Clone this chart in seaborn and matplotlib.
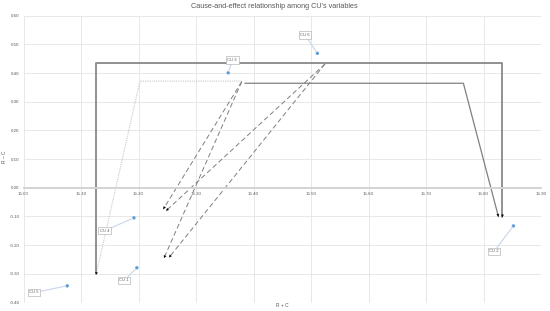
import matplotlib
matplotlib.use("Agg")
import matplotlib.pyplot as plt
import seaborn as sns
import pandas as pd

# ---- data ----
cu_labels = ["CU 1", "CU 2", "CU 3", "CU 4", "CU 5", "CU 6"]
r_plus_c = [15.197, 15.852, 15.356, 15.192, 15.076, 15.511]
r_minus_c = [-0.279, -0.133, 0.401, -0.105, -0.342, 0.469]

# relationship paths (R+C, R-C vertices), arrow at last vertex
path_thick_x = [15.126, 15.126, 15.833, 15.833]
path_thick_y = [-0.298, 0.434, 0.434, -0.103]
path_mid_x = [15.385, 15.765, 15.826]
path_mid_y = [0.3645, 0.3645, -0.101]
path_dot_x = [15.3795, 15.2026, 15.126]
path_dot_y = [0.372, 0.372, -0.304]
dash_a_x = [15.3795, 15.2431]
dash_a_y = [0.370, -0.0746]
dash_b_x = [15.3795, 15.2443]
dash_b_y = [0.370, -0.2453]
dash_c_x = [15.5243, 15.2478]
dash_c_y = [0.4317, -0.0805]
dash_d_x = [15.5243, 15.2530]
dash_d_y = [0.4317, -0.2432]

x_ticks = [15.00, 15.10, 15.20, 15.30, 15.40, 15.50, 15.60, 15.70, 15.80, 15.90]
y_ticks = [-0.40, -0.30, -0.20, -0.10, 0.00, 0.10, 0.20, 0.30, 0.40, 0.50, 0.60]

# label box positions (data coords)
label_pos = {
    "CU 1": (15.1748, -0.323),
    "CU 2": (15.8183, -0.222),
    "CU 3": (15.363, 0.445),
    "CU 4": (15.1405, -0.150),
    "CU 5": (15.0183, -0.365),
    "CU 6": (15.4896, 0.5328),
}

sns.set_style("white")
plt.rcParams["font.family"] = ["Liberation Sans", "DejaVu Sans"]

fig = plt.figure(figsize=(5.5, 3.11), dpi=100)
ax = fig.add_axes([23.5 / 550, 1 - 302.5 / 311, (541 - 23.5) / 550, (302.5 - 15.7) / 311])

grid_c = "#e4e4e4"
for xv in x_ticks:
    ax.axvline(xv, color=grid_c, lw=0.6, zorder=0)
for yv in y_ticks:
    ax.axhline(yv, color=grid_c, lw=0.6, zorder=0)

def draw_path(xs, ys, color, lw, ls, head_color="black"):
    df = pd.DataFrame({"x": xs, "y": ys})
    sns.lineplot(data=df, x="x", y="y", sort=False, estimator=None,
                 color=color, lw=lw, linestyle=ls, ax=ax, zorder=2)
    ax.annotate("", xy=(xs[-1], ys[-1]), xytext=(xs[-2], ys[-2]),
                arrowprops=dict(arrowstyle="-|>", color=head_color, lw=0,
                                mutation_scale=5, shrinkA=0, shrinkB=0),
                zorder=3)

draw_path(path_dot_x, path_dot_y, "#c8c8c8", 0.8, (0, (1, 1)))
draw_path(path_thick_x, path_thick_y, "#888888", 1.3, "-")
draw_path(path_mid_x, path_mid_y, "#808080", 0.9, "-")
for dx, dy in [(dash_a_x, dash_a_y), (dash_b_x, dash_b_y),
               (dash_c_x, dash_c_y), (dash_d_x, dash_d_y)]:
    draw_path(dx, dy, "#7f7f7f", 0.7, (0, (5, 3)))

pts = pd.DataFrame({"label": cu_labels, "x": r_plus_c, "y": r_minus_c})
sns.scatterplot(data=pts, x="x", y="y", color="#5b9bd5", s=6,
                edgecolor="none", ax=ax, zorder=4)

for lab, px, py in zip(cu_labels, r_plus_c, r_minus_c):
    lx, ly = label_pos[lab]
    ax.annotate(lab, xy=(px, py), xytext=(lx, ly), ha="center", va="center",
                fontsize=3, color="#595959",
                bbox=dict(boxstyle="square,pad=0.4", fc="white", ec="#a6a6a6", lw=0.4),
                arrowprops=dict(arrowstyle="-", color="#c9d6ea", lw=0.8,
                                shrinkA=0, shrinkB=1),
                zorder=5)

ax.set_xlim(15.00, 15.90)
ax.set_ylim(-0.40, 0.60)
ax.set_xticks(x_ticks)
ax.set_xticklabels([f"{v:.2f}" for v in x_ticks])
ax.set_yticks(y_ticks)
ax.set_yticklabels([f"{v:.2f}" for v in y_ticks])
ax.tick_params(axis="both", length=0, labelsize=3.2, labelcolor="#595959", pad=3)

for s in ["top", "right", "left"]:
    ax.spines[s].set_visible(False)
ax.spines["bottom"].set_position(("data", 0))
ax.spines["bottom"].set_color("#d4d4d4")
ax.spines["bottom"].set_linewidth(1.4)

ax.set_xlabel("")
ax.set_ylabel("")
fig.text(282 / 550, 1 - 305.5 / 311, "R + C", ha="center", va="center",
         fontsize=3.5, color="#595959")
fig.text(5 / 550, 1 - 157 / 311, "R – C", ha="center", va="center",
         rotation=90, fontsize=3.5, color="#595959")
fig.text(274 / 550, 1 - 7 / 311, "Cause-and-effect relationship among CU\u2019s variables",
         ha="center", va="center", fontsize=5.2, color="#595959")

fig.savefig("out.png", dpi=100)
